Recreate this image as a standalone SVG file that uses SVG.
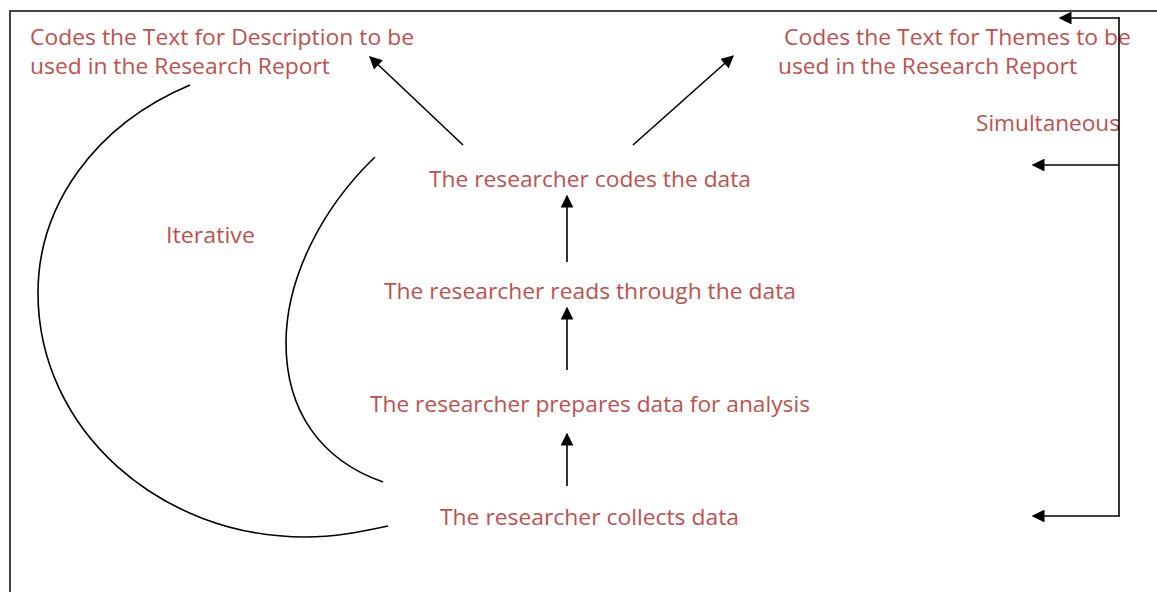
<svg xmlns="http://www.w3.org/2000/svg" width="1157" height="592" viewBox="0 0 1157 592">
<style>
.t{font-family:"Open Sans",Lato,sans-serif;font-size:21px;fill:#C0504D}
.c{stroke:#000;stroke-width:1.6;fill:none}
.a{stroke:#000;stroke-width:1.6;fill:none;marker-end:url(#ah)}
</style>
<defs>
<marker id="ah" viewBox="0 0 10 10" refX="9" refY="5" markerWidth="8" markerHeight="8" markerUnits="strokeWidth" orient="auto">
<path d="M0,0 L10,5 L0,10 z" fill="#000"/>
</marker>
</defs>
<rect width="1157" height="592" fill="#fff"/>
<g id="frame"><path d="M10,592 V11 H1157" stroke="#444" stroke-width="2" fill="none"/></g>
<g id="desc"><text class="t" x="30" y="45" textLength="384" lengthAdjust="spacingAndGlyphs">Codes the Text for Description to be</text><text class="t" x="30" y="74" textLength="300" lengthAdjust="spacingAndGlyphs">used in the Research Report</text></g>
<g id="themes"><text class="t" x="784" y="45" textLength="347" lengthAdjust="spacingAndGlyphs">Codes the Text for Themes to be</text><text class="t" x="778" y="74" textLength="299" lengthAdjust="spacingAndGlyphs">used in the Research Report</text></g>
<g id="simul"><text class="t" x="976" y="131" textLength="144" lengthAdjust="spacingAndGlyphs">Simultaneous</text></g>
<g id="codes"><text class="t" x="429" y="187" textLength="322" lengthAdjust="spacingAndGlyphs">The researcher codes the data</text></g>
<g id="iter"><text class="t" x="166" y="243" textLength="89" lengthAdjust="spacingAndGlyphs">Iterative</text></g>
<g id="reads"><text class="t" x="384" y="299" textLength="412" lengthAdjust="spacingAndGlyphs">The researcher reads through the data</text></g>
<g id="prep"><text class="t" x="370" y="412" textLength="440" lengthAdjust="spacingAndGlyphs">The researcher prepares data for analysis</text></g>
<g id="collect"><text class="t" x="440" y="525" textLength="299" lengthAdjust="spacingAndGlyphs">The researcher collects data</text></g>
<g id="connectors">
<path class="c" d="M190,85 C95,125 38,205 38,293 C38,430 160,537 305,537 C335,537 360,532 388,526"/>
<path class="c" d="M375,157 C320,210 286,280 286,343 C286,410 320,460 383,482"/>
<path class="a" d="M567,262 V196"/>
<path class="a" d="M567,370 V308"/>
<path class="a" d="M567,486 V434"/>
<path class="a" d="M463,145 L370,57"/>
<path class="a" d="M633,145 L733,56"/>
<path class="c" d="M1119,17 V517"/>
<path class="a" d="M1119,18 H1060"/>
<path class="a" d="M1119,165 H1033"/>
<path class="a" d="M1119,516 H1033"/>
</g>
</svg>
